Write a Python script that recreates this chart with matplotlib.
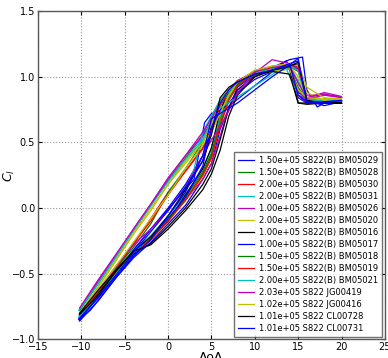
import matplotlib
matplotlib.use("Agg")
import matplotlib.pyplot as plt

# reynolds number, airfoil and run id for each sweep
reynolds = [1.5e5, 1.5e5, 2.0e5, 2.0e5, 1.0e5, 2.0e5, 1.0e5, 1.0e5,
            1.5e5, 1.5e5, 2.0e5, 2.03e5, 1.02e5, 1.01e5, 1.01e5]
airfoils = ['S822(B)'] * 11 + ['S822'] * 4
runs = ['BM05029', 'BM05028', 'BM05030', 'BM05031', 'BM05026', 'BM05020',
        'BM05016', 'BM05017', 'BM05018', 'BM05019', 'BM05021',
        'JG00419', 'JG00416', 'CL00728', 'CL00731']
colors = ['b', 'g', 'r', 'c', 'm', 'y', 'k', 'b', 'g', 'r', 'c', 'm', 'y', 'k', 'b']

# standard sweep: up to 20 deg and back down
aoa_std = [-10.2, -8, -6, -4, -2, 0, 2, 4, 5, 6, 7, 8, 10, 12, 14, 15, 16, 18, 20,
           18, 16, 15, 14, 12, 10, 8, 7, 6, 5, 4, 2, 0, -2, -4, -6, -8, -10.2]

aoa_bm05029 = [-10.3, -9, -8, -6, -4, -2, 0, 2, 3, 4, 5, 6, 8, 10, 12, 14, 15.5, 16, 17.2, 18,
               20, 18, 16, 15, 14, 13.6, 6.5, 5, 4.2, 3, 0, -2, -4, -6, -8, -10.3]
cl_bm05029 = [-0.85, -0.78, -0.70, -0.53, -0.38, -0.26, -0.12, 0.02, 0.12, 0.22,
              0.34, 0.60, 0.92, 1.02, 1.07, 1.13, 1.15, 0.90, 0.77, 0.80,
              0.82, 0.81, 0.84, 0.88, 1.08, 1.12, 0.75, 0.72, 0.65, 0.22,
              -0.01, -0.16, -0.32, -0.50, -0.66, -0.84]

cl_bm05028 = [-0.81, -0.64, -0.48, -0.33, -0.22, -0.08, 0.08, 0.28, 0.42, 0.68, 0.85, 0.95, 1.03, 1.06, 1.08, 1.04, 0.83, 0.81, 0.81,
              0.81, 0.83, 0.96, 1.07, 1.05, 1.01, 0.96, 0.90, 0.82, 0.70, 0.56, 0.38, 0.21, 0.02, -0.17, -0.37, -0.57, -0.78]
cl_bm05030 = [-0.81, -0.66, -0.49, -0.34, -0.24, -0.10, 0.06, 0.26, 0.40, 0.66, 0.84, 0.94, 1.03, 1.07, 1.09, 1.07, 0.82, 0.80, 0.80,
              0.80, 0.81, 0.90, 1.08, 1.06, 1.02, 0.95, 0.86, 0.74, 0.58, 0.45, 0.28, 0.12, -0.08, -0.28, -0.46, -0.64, -0.81]
cl_bm05031 = [-0.80, -0.63, -0.47, -0.32, -0.21, -0.06, 0.10, 0.30, 0.45, 0.70, 0.86, 0.96, 1.04, 1.07, 1.09, 1.05, 0.84, 0.82, 0.82,
              0.82, 0.84, 0.97, 1.08, 1.05, 1.02, 0.96, 0.90, 0.80, 0.66, 0.54, 0.37, 0.21, 0.02, -0.17, -0.37, -0.56, -0.77]
cl_bm05026 = [-0.82, -0.65, -0.49, -0.33, -0.22, -0.08, 0.06, 0.22, 0.34, 0.55, 0.76, 0.88, 1.00, 1.05, 1.10, 1.08, 0.86, 0.86, 0.84,
              0.87, 0.84, 0.95, 1.09, 1.06, 1.03, 0.96, 0.90, 0.80, 0.66, 0.55, 0.40, 0.23, 0.03, -0.16, -0.36, -0.55, -0.77]
cl_bm05020 = [-0.83, -0.67, -0.50, -0.35, -0.24, -0.10, 0.06, 0.24, 0.38, 0.64, 0.84, 0.96, 1.05, 1.08, 1.10, 1.08, 0.88, 0.82, 0.83,
              0.82, 0.84, 1.00, 1.09, 1.07, 1.04, 0.97, 0.90, 0.79, 0.64, 0.50, 0.34, 0.18, 0.00, -0.19, -0.39, -0.59, -0.80]
cl_bm05016 = [-0.80, -0.68, -0.50, -0.35, -0.27, -0.14, 0.00, 0.18, 0.30, 0.52, 0.76, 0.90, 1.01, 1.05, 1.08, 1.10, 0.82, 0.80, 0.80,
              0.80, 0.79, 0.80, 1.06, 1.05, 1.02, 0.96, 0.90, 0.74, 0.46, 0.30, 0.10, -0.10, -0.22, -0.34, -0.49, -0.64, -0.82]
cl_bm05017 = [-0.84, -0.68, -0.52, -0.36, -0.24, -0.08, 0.08, 0.32, 0.62, 0.74, 0.80, 0.88, 0.98, 1.04, 1.10, 1.12, 0.82, 0.78, 0.81,
              0.80, 0.80, 0.84, 1.08, 1.06, 1.02, 0.96, 0.90, 0.80, 0.62, 0.40, 0.18, 0.00, -0.16, -0.32, -0.50, -0.66, -0.84]
cl_bm05018 = [-0.82, -0.66, -0.50, -0.34, -0.23, -0.09, 0.06, 0.26, 0.40, 0.64, 0.83, 0.94, 1.02, 1.05, 1.07, 1.06, 0.83, 0.81, 0.81,
              0.81, 0.82, 0.92, 1.06, 1.04, 1.01, 0.95, 0.88, 0.78, 0.64, 0.50, 0.30, 0.12, -0.12, -0.30, -0.46, -0.63, -0.81]
cl_bm05019 = [-0.82, -0.66, -0.49, -0.34, -0.24, -0.10, 0.06, 0.25, 0.38, 0.62, 0.82, 0.93, 1.03, 1.07, 1.09, 1.07, 0.82, 0.80, 0.80,
              0.80, 0.80, 0.86, 1.08, 1.06, 1.03, 0.97, 0.90, 0.78, 0.60, 0.46, 0.28, 0.10, -0.10, -0.27, -0.45, -0.63, -0.82]

aoa_bm05021 = [-10.3, -8, -6, -4, -2, 0, 2, 3, 4, 5, 6, 8, 10, 12, 14, 15, 16, 18, 20, 18,
               16, 15, 13.5, 5.5, 4, 2, 0, -2, -4, -6, -8, -10.3]
cl_bm05021 = [-0.83, -0.66, -0.50, -0.34, -0.22, -0.06, 0.12, 0.30, 0.58, 0.70,
              0.82, 0.96, 1.03, 1.06, 1.08, 1.05, 0.83, 0.81, 0.82, 0.81,
              0.83, 0.86, 1.08, 0.74, 0.52, 0.36, 0.20, 0.02, -0.17, -0.37,
              -0.57, -0.78]

cl_jg00419 = [-0.80, -0.62, -0.44, -0.28, -0.16, -0.02, 0.16, 0.40, 0.52, 0.62, 0.74, 0.88, 1.03, 1.13, 1.10, 1.06, 0.84, 0.88, 0.85,
              0.86, 0.83, 0.86, 1.08, 1.08, 1.04, 0.97, 0.90, 0.80, 0.68, 0.58, 0.40, 0.22, 0.03, -0.16, -0.35, -0.54, -0.76]
cl_jg00416 = [-0.80, -0.62, -0.44, -0.26, -0.08, 0.10, 0.30, 0.48, 0.58, 0.72, 0.86, 0.96, 1.05, 1.08, 1.10, 1.10, 0.92, 0.84, 0.83,
              0.83, 0.84, 0.90, 1.06, 1.04, 1.02, 0.96, 0.90, 0.80, 0.64, 0.50, 0.36, 0.18, -0.02, -0.20, -0.40, -0.60, -0.80]
cl_cl00728 = [-0.81, -0.66, -0.48, -0.33, -0.28, -0.16, -0.02, 0.14, 0.26, 0.44, 0.70, 0.86, 1.00, 1.05, 1.08, 1.11, 0.82, 0.80, 0.80,
              0.80, 0.80, 0.80, 1.02, 1.04, 1.02, 0.96, 0.92, 0.84, 0.56, 0.36, 0.14, -0.06, -0.22, -0.33, -0.47, -0.62, -0.80]
cl_cl00731 = [-0.86, -0.70, -0.53, -0.37, -0.24, -0.06, 0.12, 0.40, 0.68, 0.72, 0.76, 0.80, 0.90, 1.00, 1.09, 1.14, 0.80, 0.80, 0.82,
              0.81, 0.81, 0.86, 1.10, 1.05, 1.02, 0.96, 0.90, 0.80, 0.60, 0.36, 0.16, -0.02, -0.18, -0.34, -0.51, -0.67, -0.85]

aoa_list = [aoa_bm05029, aoa_std, aoa_std, aoa_std, aoa_std, aoa_std, aoa_std, aoa_std,
            aoa_std, aoa_std, aoa_bm05021, aoa_std, aoa_std, aoa_std, aoa_std]
cl_list = [cl_bm05029, cl_bm05028, cl_bm05030, cl_bm05031, cl_bm05026, cl_bm05020,
           cl_bm05016, cl_bm05017, cl_bm05018, cl_bm05019, cl_bm05021,
           cl_jg00419, cl_jg00416, cl_cl00728, cl_cl00731]

fig = plt.figure(figsize=(3.88, 3.58), dpi=100)
ax = fig.add_axes([0.098, 0.052, 0.894, 0.917])

for i in range(len(runs)):
    label = '%.2e %s %s' % (reynolds[i], airfoils[i], runs[i])
    ax.plot(aoa_list[i], cl_list[i], color=colors[i], lw=0.9, label=label)

ax.set_xlim(-15, 25)
ax.set_ylim(-1.0, 1.5)
ax.set_xticks(range(-15, 26, 5))
ax.set_yticks([-1.0, -0.5, 0.0, 0.5, 1.0, 1.5])
ax.grid(True, color='0.6', linestyle=':', lw=0.8)
ax.tick_params(labelsize=7, direction='in', top=True, right=True, length=3, pad=2)
for sp in ax.spines.values():
    sp.set_color('0.35')
    sp.set_linewidth(1.0)

ax.set_xlabel('AoA', fontsize=9, labelpad=-1)
ax.set_ylabel('$C_l$', fontsize=9)
ax.yaxis.set_label_coords(-0.062, 0.5)

leg = ax.legend(loc='lower right', fontsize=6.0, handlelength=2.0, labelspacing=0.36,
                borderpad=0.45, handletextpad=0.6, fancybox=False, borderaxespad=0.3)
leg.get_frame().set_edgecolor('0.3')
leg.get_frame().set_linewidth(1.0)

fig.savefig('out.png', dpi=100)
